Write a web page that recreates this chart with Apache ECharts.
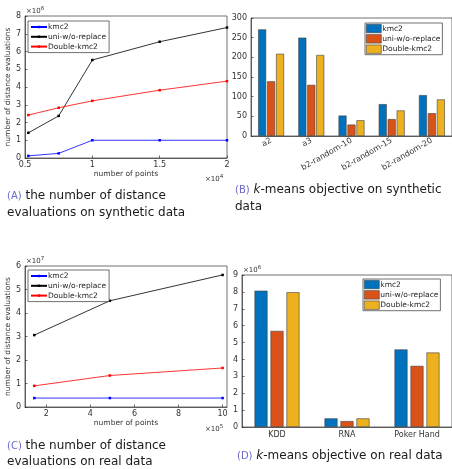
<!DOCTYPE html>
<html><head><meta charset="utf-8">
<script src="https://cdn.jsdelivr.net/npm/echarts@6/dist/echarts.min.js"></script>
<style>html,body{margin:0;padding:0;background:#fff}#c{width:452px;height:469px}</style>
</head><body><div id="c"></div>
<script>
const seriesNames = ['kmc2', 'uni-w/o-replace', 'Double-kmc2'];
// (A) distance evaluations, synthetic data
const synPoints = [5250, 7500, 10000, 15000, 20000];
const synKmc2 = [0.12e6, 0.26e6, 1.0e6, 1.0e6, 1.0e6];
const synUni = [1.42e6, 2.37e6, 5.52e6, 6.55e6, 7.35e6];
const synDouble = [2.42e6, 2.83e6, 3.22e6, 3.82e6, 4.33e6];
// (B) k-means objective, synthetic data
const synDatasets = ['a2', 'a3', 'b2-random-10', 'b2-random-15', 'b2-random-20'];
const synObjKmc2 = [271, 250, 52, 81, 104];
const synObjUni = [139, 130, 29, 43, 58];
const synObjDouble = [209, 206, 40, 65, 93];
// (C) distance evaluations, real data
const realPoints = [145751, 488565, 1000000];
const realKmc2 = [0.38e7, 0.38e7, 0.38e7];
const realUni = [3.06e7, 4.52e7, 5.62e7];
const realDouble = [0.90e7, 1.34e7, 1.66e7];
const realXTicks = [200000, 400000, 600000, 800000, 1000000];
// (D) k-means objective, real data
const realDatasets = ['KDD', 'RNA', 'Poker Hand'];
const realObjKmc2 = [8.07e6, 0.51e6, 4.59e6];
const realObjUni = [5.69e6, 0.35e6, 3.62e6];
const realObjDouble = [7.98e6, 0.51e6, 4.41e6];

const lineColors = ['#0000ff', '#000000', '#ff0000'];
const barColors = ['#0072BD', '#D95319', '#EDB120'];
const FONT = 'DejaVu Sans';
const AX = '#333333';
const lab = {color: AX, fontSize: 8, fontFamily: FONT};
const nameLab = {color: AX, fontSize: 7.5, fontFamily: FONT};

function valAxis(gi, o) {
  return Object.assign({
    type: 'value', gridIndex: gi, splitLine: {show: false},
    axisLine: {show: true, onZero: false, lineStyle: {color: AX, width: 0.7}},
    axisTick: {show: true, inside: true, length: 2.5, lineStyle: {color: AX, width: 0.7}},
    axisLabel: Object.assign({margin: 4}, lab),
    nameTextStyle: nameLab
  }, o);
}
function catAxis(gi, data, o) {
  return Object.assign({
    type: 'category', gridIndex: gi, data: data,
    axisLine: {show: true, lineStyle: {color: AX, width: 0.7}},
    axisTick: {show: true, inside: true, alignWithLabel: true, length: 2.5, lineStyle: {color: AX, width: 0.7}},
    axisLabel: Object.assign({margin: 4, interval: 0}, lab)
  }, o);
}
function lineSer(name, xs, ys, gi, ci) {
  return {type: 'line', name: name, xAxisIndex: gi, yAxisIndex: gi,
    data: xs.map((x, i) => [x, ys[i]]),
    symbol: 'rect', symbolSize: 2.5, showSymbol: true,
    lineStyle: {color: lineColors[ci], width: 0.8},
    itemStyle: {color: lineColors[ci]}, animation: false};
}
function barSer(name, ys, gi, ci, bw, gap) {
  return {type: 'bar', name: name, xAxisIndex: gi, yAxisIndex: gi, data: ys,
    barWidth: bw, barGap: gap,
    itemStyle: {color: barColors[ci], borderColor: '#404040', borderWidth: 0.6}, animation: false};
}
function lineLegend(left, top) {
  return {orient: 'vertical', left: left, top: top, itemWidth: 16, itemHeight: 3, itemGap: 1.8,
    padding: [2, 3, 2, 2], borderColor: AX, borderWidth: 0.7, backgroundColor: '#fff',
    textStyle: {color: '#222', fontSize: 7.5, fontFamily: FONT, padding: [0, 0, 0, -4]},
    data: seriesNames.map(n => ({name: n})), selectedMode: false};
}
function barLegend(left, top) {
  return {orient: 'vertical', left: left, top: top, itemWidth: 15, itemHeight: 8.5, itemGap: 1.2,
    padding: [1, 2, 1, 1], borderColor: AX, borderWidth: 0.7, backgroundColor: '#fff',
    textStyle: {color: '#222', fontSize: 7.5, fontFamily: FONT, padding: [0, 0, 0, -4]},
    data: seriesNames.map((n, i) => ({name: n, icon: 'rect',
      itemStyle: {color: barColors[i], borderColor: '#404040', borderWidth: 0.6}})),
    selectedMode: false};
}
function expText(x, y, e) {
  return {type: 'text', left: x, top: y, style: {text: '{a|×10}{b|' + e + '}',
    rich: {a: {fill: AX, fontSize: 7, fontFamily: FONT}, b: {fill: AX, fontSize: 5.5, fontFamily: FONT, verticalAlign: 'top', padding: [0, 0, 5, 0]}}}};
}
const capRich = {c: {fill: '#6b6bc8', fontSize: 10, fontFamily: FONT}, k: {fill: '#1a1a1a', fontSize: 12, fontFamily: FONT, fontStyle: 'italic'}};
function cap(x, y, text) {
  return {type: 'text', left: x, top: y, style: {text: text, fill: '#1a1a1a', fontSize: 12, fontFamily: FONT, rich: capRich}};
}

const option = {
  backgroundColor: '#fff',
  animation: false,
  grid: [
    {left: 25, top: 16, width: 202, height: 142, show: true, borderColor: AX, borderWidth: 0.7},
    {left: 251, top: 18, width: 205, height: 118, show: true, borderColor: AX, borderWidth: 0.7},
    {left: 25, top: 266, width: 202, height: 141, show: true, borderColor: AX, borderWidth: 0.7},
    {left: 242, top: 275, width: 213, height: 152, show: true, borderColor: AX, borderWidth: 0.7}
  ],
  xAxis: [
    valAxis(0, {min: 5000, max: 20000, interval: 5000,
      axisLabel: Object.assign({margin: 3, formatter: v => String(v / 10000)}, lab),
      name: 'number of points', nameLocation: 'middle', nameGap: 12}),
    catAxis(1, synDatasets, {axisLabel: Object.assign({margin: 4, interval: 0, rotate: 30}, lab)}),
    valAxis(2, {min: 103600, max: 1020000,
      axisLabel: Object.assign({margin: 3, customValues: realXTicks, formatter: v => String(Math.round(v / 100000))}, lab),
      axisTick: {show: true, inside: true, length: 2.5, customValues: realXTicks, lineStyle: {color: AX, width: 0.7}},
      name: 'number of points', nameLocation: 'middle', nameGap: 12}),
    catAxis(3, realDatasets, {})
  ],
  yAxis: [
    valAxis(0, {min: 0, max: 8e6, interval: 1e6,
      axisLabel: Object.assign({margin: 4, formatter: v => String(v / 1e6)}, lab),
      name: 'number of distance evaluations', nameLocation: 'middle', nameGap: 8}),
    valAxis(1, {min: 0, max: 300, interval: 50}),
    valAxis(2, {min: 0, max: 6e7, interval: 1e7,
      axisLabel: Object.assign({margin: 4, formatter: v => String(v / 1e7)}, lab),
      name: 'number of distance evaluations', nameLocation: 'middle', nameGap: 8}),
    valAxis(3, {min: 0, max: 9e6, interval: 1e6,
      axisLabel: Object.assign({margin: 4, formatter: v => String(v / 1e6)}, lab)})
  ],
  legend: [lineLegend(28, 21), barLegend(365, 23), lineLegend(28, 270), barLegend(363, 279)],
  series: [
    lineSer(seriesNames[0], synPoints, synKmc2, 0, 0),
    lineSer(seriesNames[1], synPoints, synUni, 0, 1),
    lineSer(seriesNames[2], synPoints, synDouble, 0, 2),
    lineSer(seriesNames[0], realPoints, realKmc2, 2, 0),
    lineSer(seriesNames[1], realPoints, realUni, 2, 1),
    lineSer(seriesNames[2], realPoints, realDouble, 2, 2),
    barSer(seriesNames[0], synObjKmc2, 1, 0, 8, '12%'),
    barSer(seriesNames[1], synObjUni, 1, 1, 8, '12%'),
    barSer(seriesNames[2], synObjDouble, 1, 2, 8, '12%'),
    barSer(seriesNames[0], realObjKmc2, 3, 0, 13, '23%'),
    barSer(seriesNames[1], realObjUni, 3, 1, 13, '23%'),
    barSer(seriesNames[2], realObjDouble, 3, 2, 13, '23%')
  ],
  graphic: [
    expText(26, 6, '6'), expText(205, 174, '4'),
    expText(26, 256, '7'), expText(205, 424, '5'),
    expText(243, 265, '6'),
    cap(7, 190, '{c|(A)} the number of distance'),
    cap(7, 207, 'evaluations on synthetic data'),
    cap(235, 184, '{c|(B)} {k|k}-means objective on synthetic'),
    cap(235, 201, 'data'),
    cap(7, 440, '{c|(C)} the number of distance'),
    cap(7, 456, 'evaluations on real data'),
    cap(237, 450, '{c|(D)} {k|k}-means objective on real data')
  ]
};
const chart = echarts.init(document.getElementById('c'), null, {renderer: 'canvas'});
chart.setOption(option);
</script></body></html>
